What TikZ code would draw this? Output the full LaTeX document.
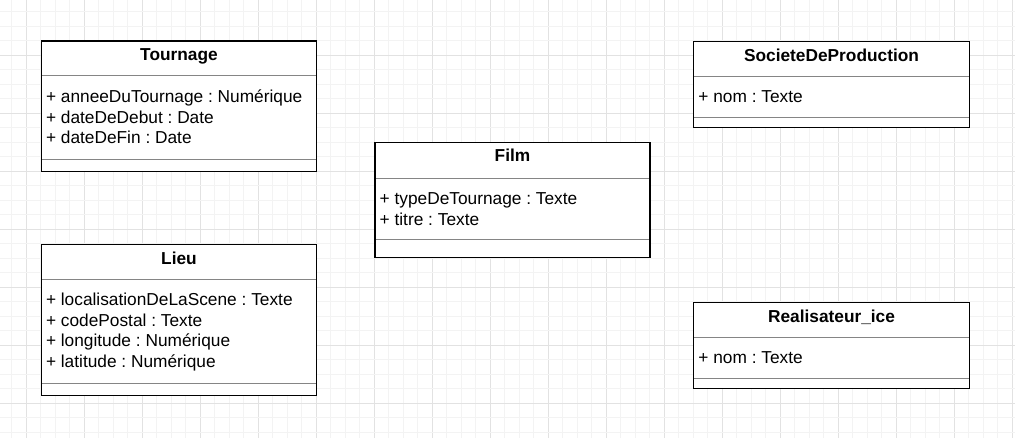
\documentclass[tikz,border=0pt]{standalone}
\usepackage{fontspec}
\setmainfont{Liberation Sans}
\frenchspacing
\definecolor{gridminor}{HTML}{F3F3F3}
\definecolor{gridmajor}{HTML}{E2E2E2}
\definecolor{divgray}{HTML}{858585}
\tikzset{
  umlbox/.style={draw=black, line width=1.4pt, rectangle, inner sep=0pt, outer sep=0pt, anchor=north west},
  divider/.style={draw=divgray, line width=1pt},
  umltitle/.style={font=\fontsize{17.3}{20.5}\selectfont\bfseries, inner sep=0pt, anchor=base},
  umlattr/.style={font=\fontsize{17.3}{20.5}\selectfont, inner sep=0pt, anchor=base west},
}
\begin{document}
\begin{tikzpicture}[x=1pt,y=-1pt]
\useasboundingbox (0,0) rectangle (1015,438);
\fill[white] (0,0) rectangle (1015,438);
% grid
\foreach \i in {-1,...,69} {
  \pgfmathsetmacro\gx{26.3+14.5*\i}
  \pgfmathtruncatemacro\m{mod(\i+8,4)}
  \ifnum\m=0
    \draw[gridmajor, line width=0.8pt] (\gx,0) -- (\gx,438);
  \else
    \draw[gridminor, line width=0.8pt] (\gx,0) -- (\gx,438);
  \fi
}
\foreach \j in {0,...,30} {
  \pgfmathsetmacro\gy{11.5+14.5*\j}
  \pgfmathtruncatemacro\m{mod(\j+1,4)}
  \ifnum\m=0
    \draw[gridmajor, line width=0.8pt] (0,\gy) -- (1015,\gy);
  \else
    \draw[gridminor, line width=0.8pt] (0,\gy) -- (1015,\gy);
  \fi
}
% Tournage
\node[umlbox, fill=white, minimum width=275.4pt, minimum height=130.7pt] (tournage) at (41.3,41) {};
\draw[divider] (tournage.west |- 0,76) -- (tournage.east |- 0,76);
\draw[divider] (tournage.west |- 0,159.3) -- (tournage.east |- 0,159.3);
\draw[draw=black, line width=1.4pt] (tournage.north west) rectangle (tournage.south east);
\node[umltitle] (tournageT) at (179,60.5) {Tournage};
\node[umlattr] (tournageA1) at (45.8,102.9) {+ anneeDuTournage : Numérique};
\node[umlattr] (tournageA2) at (45.8,123.5) {+ dateDeDebut : Date};
\node[umlattr] (tournageA3) at (45.8,143.9) {+ dateDeFin : Date};
% Film
\node[umlbox, fill=white, minimum width=275pt, minimum height=115pt] (film) at (375,142.7) {};
\draw[divider] (film.west |- 0,178.3) -- (film.east |- 0,178.3);
\draw[divider] (film.west |- 0,240) -- (film.east |- 0,240);
\draw[draw=black, line width=1.4pt] (film.north west) rectangle (film.south east);
\node[umltitle] (filmT) at (512.5,161.9) {Film};
\node[umlattr] (filmA1) at (379.5,204.5) {+ typeDeTournage : Texte};
\node[umlattr] (filmA2) at (379.5,225.5) {+ titre : Texte};
% SocieteDeProduction
\node[umlbox, fill=white, minimum width=275.6pt, minimum height=86pt] (societe) at (693.7,41.7) {};
\draw[divider] (societe.west |- 0,76.7) -- (societe.east |- 0,76.7);
\draw[divider] (societe.west |- 0,117.3) -- (societe.east |- 0,117.3);
\draw[draw=black, line width=1.4pt] (societe.north west) rectangle (societe.south east);
\node[umltitle] (societeT) at (831.5,61.2) {SocieteDeProduction};
\node[umlattr] (societeA1) at (698.2,102.9) {+ nom : Texte};
% Lieu
\node[umlbox, fill=white, minimum width=275.4pt, minimum height=151.4pt] (lieu) at (41.3,244.3) {};
\draw[divider] (lieu.west |- 0,279.3) -- (lieu.east |- 0,279.3);
\draw[divider] (lieu.west |- 0,383.7) -- (lieu.east |- 0,383.7);
\draw[draw=black, line width=1.4pt] (lieu.north west) rectangle (lieu.south east);
\node[umltitle] (lieuT) at (179,264.5) {Lieu};
\node[umlattr] (lieuA1) at (45.8,305.5) {+ localisationDeLaScene : Texte};
\node[umlattr] (lieuA2) at (45.8,326.2) {+ codePostal : Texte};
\node[umlattr] (lieuA3) at (45.8,346.9) {+ longitude : Numérique};
\node[umlattr] (lieuA4) at (45.8,367.2) {+ latitude : Numérique};
% Realisateur_ice
\node[umlbox, fill=white, minimum width=275.6pt, minimum height=86pt] (real) at (693.7,302.7) {};
\draw[divider] (real.west |- 0,337.3) -- (real.east |- 0,337.3);
\draw[divider] (real.west |- 0,378.3) -- (real.east |- 0,378.3);
\draw[draw=black, line width=1.4pt] (real.north west) rectangle (real.south east);
\node[umltitle] (realT) at (831.5,322.2) {Realisateur\_ice};
\node[umlattr] (realA1) at (698.2,363.9) {+ nom : Texte};
\end{tikzpicture}
\end{document}
